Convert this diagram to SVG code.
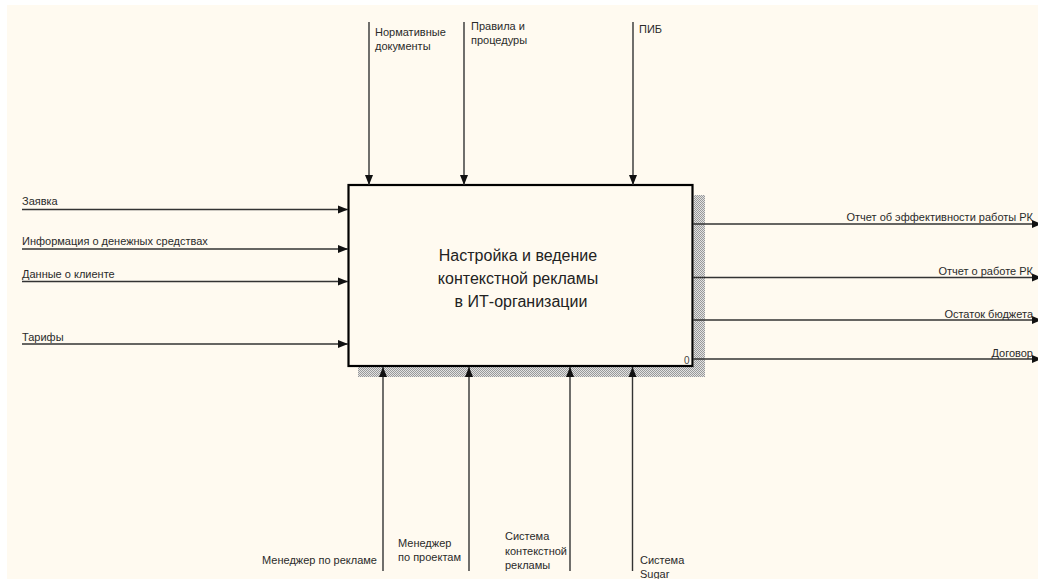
<svg xmlns="http://www.w3.org/2000/svg" width="1038" height="579" viewBox="0 0 1038 579">
<defs>
<marker id="arr" markerUnits="userSpaceOnUse" markerWidth="11" markerHeight="10" refX="10" refY="4.5" orient="auto">
<path d="M0,0.5 L10,4.5 L0,8.5 z" fill="#111"/>
</marker>
<pattern id="hatch" width="2" height="2" patternUnits="userSpaceOnUse">
<rect width="2" height="2" fill="#e2e2e2"/>
<rect width="1" height="1" fill="#999"/>
<rect x="1" y="1" width="1" height="1" fill="#999"/>
</pattern>
<style>
.lbl{font-family:"Liberation Sans",Arial,sans-serif;font-size:11px;fill:#2a2a2a}
.ttl{font-family:"Liberation Sans",Arial,sans-serif;font-size:16px;fill:#222;text-anchor:middle}
.ln{stroke:#333;stroke-width:1.4;fill:none;marker-end:url(#arr)}
.end{text-anchor:end}
</style>
</defs>
<rect width="1038" height="579" fill="#ffffff"/>
<rect x="7" y="5" width="1031" height="574" fill="#fffaf0"/>

<g id="node-A0">
<rect x="694" y="195" width="11" height="182" fill="url(#hatch)"/>
<rect x="358" y="367" width="347" height="10" fill="url(#hatch)"/>
<rect x="348.5" y="185" width="344" height="181" fill="#fffaf0" stroke="#000" stroke-width="2.2"/>
<text class="ttl" x="518" y="261">Настройка и ведение</text>
<text class="ttl" x="518" y="284">контекстной рекламы</text>
<text class="ttl" x="521" y="307">в ИТ-организации</text>
<text x="684" y="364" style="font-family:'Liberation Sans',Arial,sans-serif;font-size:10px;fill:#444">0</text>
</g>

<g id="connectors">
<!-- controls -->
<line class="ln" x1="369" y1="22" x2="369" y2="185"/>
<line class="ln" x1="464" y1="22" x2="464" y2="185"/>
<line class="ln" x1="633" y1="22" x2="633" y2="185"/>
<!-- inputs -->
<line class="ln" x1="22" y1="209.5" x2="348" y2="209.5"/>
<line class="ln" x1="22" y1="249" x2="348" y2="249"/>
<line class="ln" x1="22" y1="281.5" x2="348" y2="281.5"/>
<line class="ln" x1="22" y1="344" x2="348" y2="344"/>
<!-- outputs -->
<line class="ln" x1="693" y1="224" x2="1042" y2="224"/>
<line class="ln" x1="693" y1="277.5" x2="1042" y2="277.5"/>
<line class="ln" x1="693" y1="320" x2="1042" y2="320"/>
<line class="ln" x1="693" y1="359" x2="1042" y2="359"/>
<!-- mechanisms -->
<line class="ln" x1="383" y1="571" x2="383" y2="367"/>
<line class="ln" x1="469" y1="571" x2="469" y2="367"/>
<line class="ln" x1="570" y1="571" x2="570" y2="367"/>
<line class="ln" x1="632.5" y1="571" x2="632.5" y2="367"/>

<g id="labels">
<text class="lbl" x="375" y="36">Нормативные</text>
<text class="lbl" x="375" y="50">документы</text>
<text class="lbl" x="471" y="30">Правила и</text>
<text class="lbl" x="471" y="44">процедуры</text>
<text class="lbl" x="639" y="33">ПИБ</text>

<text class="lbl" x="22" y="205">Заявка</text>
<text class="lbl" x="22" y="245">Информация о денежных средствах</text>
<text class="lbl" x="22" y="277.5">Данные о клиенте</text>
<text class="lbl" x="22" y="340.5">Тарифы</text>

<text class="lbl end" x="1033" y="221">Отчет об эффективности работы РК</text>
<text class="lbl end" x="1033" y="275">Отчет о работе РК</text>
<text class="lbl end" x="1033" y="318">Остаток бюджета</text>
<text class="lbl end" x="1033" y="356.5">Договор</text>

<text class="lbl end" x="377" y="564">Менеджер по рекламе</text>
<text class="lbl" x="398" y="547">Менеджер</text>
<text class="lbl" x="398" y="561">по проектам</text>
<text class="lbl" x="505" y="540">Система</text>
<text class="lbl" x="505" y="555">контекстной</text>
<text class="lbl" x="505" y="569">рекламы</text>
<text class="lbl" x="640" y="564">Система</text>
<text class="lbl" x="640" y="578">Sugar</text>
</g>
</g>
</svg>
